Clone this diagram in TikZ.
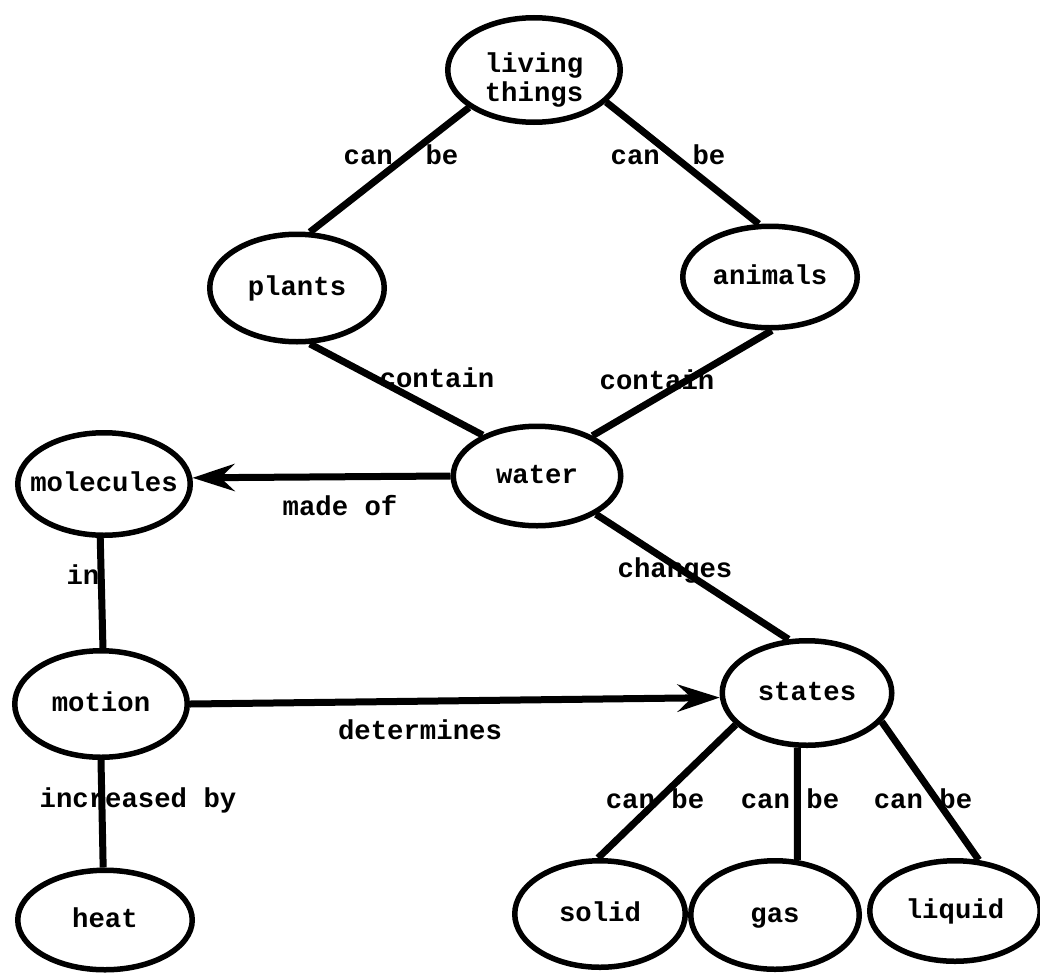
\documentclass[tikz,border=0pt]{standalone}
\usepackage{fontspec}
\setmonofont{Liberation Mono}
\usetikzlibrary{arrows.meta,shapes.geometric}
% zero-width box so the ellipse size comes only from its minimum width/height
\newcommand\concept[1]{\makebox[0pt]{#1}}
\begin{document}
\begin{tikzpicture}[x=1pt,y=-1pt,
  every node/.style={font=\ttfamily\bfseries\fontsize{27.3}{28}\selectfont},
  concept/.style={draw, ellipse, line width=5.5pt, inner sep=0pt,
    text height=20.5pt, text depth=5.5pt},
  link/.style={line width=7pt},
  arrowlink/.style={link, -{Stealth[length=42pt,width=27pt,inset=14pt]}},
  linklabel/.style={inner sep=0pt, text height=20.5pt, text depth=5.5pt}]
\useasboundingbox (0,0) rectangle (1040,974);

% concepts
\node[concept, minimum width=172.5pt, minimum height=104.5pt] (lt) at (534,70)
  {\concept{\raisebox{-10pt}[0pt][0pt]{\begin{tabular}{@{}c@{}}living\\things\end{tabular}}}};
\node[concept, minimum width=174.5pt, minimum height=107.5pt] (plants) at (297,288) {\concept{plants}};
\node[concept, minimum width=174.5pt, minimum height=101.5pt] (animals) at (770,277) {\concept{animals}};
\node[concept, minimum width=167.5pt, minimum height=99.5pt] (water) at (537,476) {\concept{water}};
\node[concept, minimum width=172.5pt, minimum height=102.5pt] (molecules) at (104,484) {\concept{molecules}};
\node[concept, minimum width=172.5pt, minimum height=106.5pt] (motion) at (101,704) {\concept{motion}};
\node[concept, minimum width=174.5pt, minimum height=99.5pt] (heat) at (105,920) {\concept{heat}};
\node[concept, minimum width=169.5pt, minimum height=104.5pt] (states) at (807,693) {\concept{states}};
\node[concept, minimum width=170.5pt, minimum height=106.5pt] (solid) at (600,914) {\concept{solid}};
\node[concept, minimum width=168.5pt, minimum height=108.5pt] (gas) at (775,915) {\concept{gas}};
\node[concept, minimum width=170.5pt, minimum height=100.5pt] (liquid) at (955,911) {\concept{liquid}};

% links
\draw[link] (lt.210) -- (plants.77);
\draw[link] (lt.336) -- (animals.102);
\draw[link] (plants.283) -- (water.143);
\draw[link] (animals.272) -- (water.36);
\draw[arrowlink] (water.180) -- (molecules.4);
\draw[link] (molecules.266) -- (motion.88);
\draw[arrowlink] (motion.0) -- (states.183);
\draw[link] (motion.270) -- (heat.92);
\draw[link] (water.327) -- (states.109);
\draw[link] (states.204) -- (solid.92);
\draw[link] (states.260) -- (gas.68);
\draw[link] (states.339) -- (liquid.65);

% link words
\node[linklabel] (lbPlants) at (401,157) {can\ \ be};
\node[linklabel] (lbAnimals) at (668,157) {can\ \ be};
\node[linklabel] (lbContainP) at (437,380) {contain};
\node[linklabel] (lbContainA) at (657,382) {contain};
\node[linklabel] (lbMade) at (340,508) {made of};
\node[linklabel] (lbIn) at (83,577) {in};
\node[linklabel] (lbDetermines) at (420,732) {determines};
\node[linklabel] (lbIncreased) at (138,800) {increased by};
\node[linklabel] (lbChanges) at (675,570) {changes};
\node[linklabel] (lbSolid) at (655,801) {can be};
\node[linklabel] (lbGas) at (790,801) {can be};
\node[linklabel] (lbLiquid) at (923,801) {can be};
\end{tikzpicture}
\end{document}
